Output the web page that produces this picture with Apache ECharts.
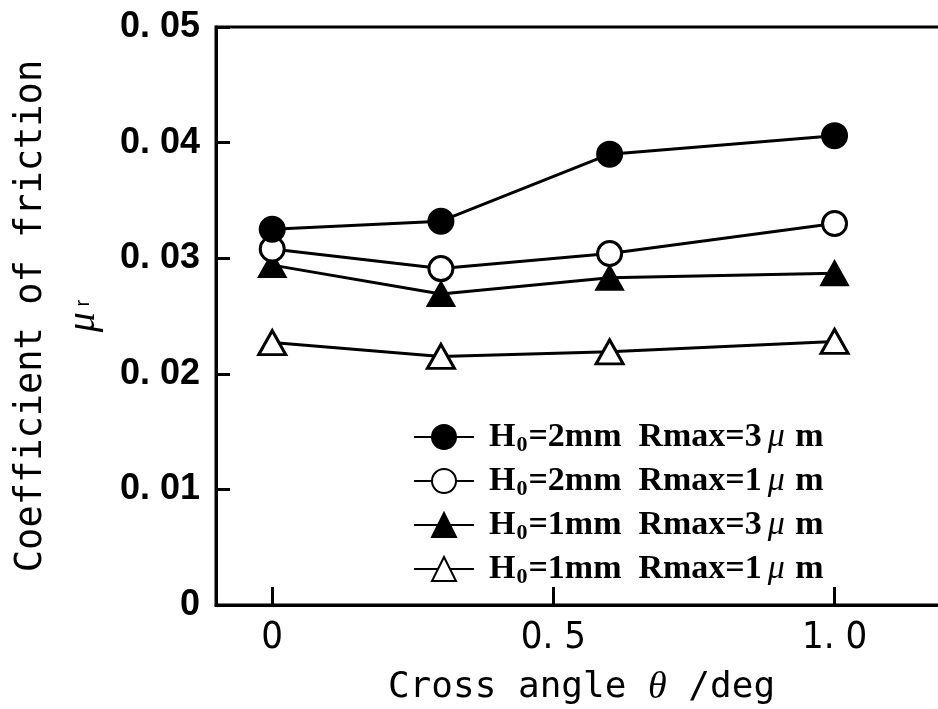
<!DOCTYPE html>
<html>
<head>
<meta charset="utf-8">
<script src="https://cdn.jsdelivr.net/npm/echarts@6/dist/echarts.min.js"></script>
<style>
  html, body { margin: 0; padding: 0; background: #fff; }
  #chart { width: 938px; height: 709px; }
</style>
</head>
<body>
<div id="chart"></div>
<script>
// cross angle (deg)
const crossAngle = [0, 0.3, 0.6, 1.0];
// coefficient of friction for each condition
const h2r3 = [0.0325, 0.0332, 0.0390, 0.0406];
const h2r1 = [0.0308, 0.0291, 0.0304, 0.0330];
const h1r3 = [0.0294, 0.0269, 0.0283, 0.0287];
const h1r1 = [0.0227, 0.0215, 0.0219, 0.0228];
const seriesNames = ['H0=2mm Rmax=3', 'H0=2mm Rmax=1', 'H0=1mm Rmax=3', 'H0=1mm Rmax=1'];
const xTickValues = [0, 0.5, 1.0];

function pairs(ys) {
  return ys.map((y, i) => [crossAngle[i], y]);
}

function legendLabel(name) {
  // name like 'H0=2mm Rmax=3'
  const h = name.substring(3, 4);
  const r = name.substring(name.length - 1);
  return '{t|H}{sub|0}{t|=' + h + 'mm  Rmax=' + r + '}{mu|μ}{t| m}';
}

let chartDom = document.getElementById('chart');
let myChart = echarts.init(chartDom, null, {renderer: 'canvas'});

const lineStyle = {color: '#000', width: 3};
const filled = {color: '#000', borderColor: '#000', borderWidth: 2};
const hollow = {color: '#fff', borderColor: '#000', borderWidth: 3};

let option = {
  backgroundColor: '#fff',
  animation: false,
  grid: {
    left: 216,
    top: 27,
    right: -9,
    bottom: 104,
    outerBoundsMode: 'none',
    containLabel: false,
    show: true,
    borderColor: '#000',
    borderWidth: 3
  },
  legend: {
    orient: 'vertical',
    left: 408,
    top: 415,
    itemWidth: 60,
    itemHeight: 30,
    itemGap: 8,
    data: seriesNames,
    formatter: legendLabel,
    textStyle: {
      color: '#000',
      padding: [0, 0, 0, 10],
      rich: {
        t: {fontFamily: 'Liberation Serif', fontSize: 34, fontWeight: 'bold', color: '#000', lineHeight: 38},
        sub: {fontFamily: 'Liberation Serif', fontSize: 22, fontWeight: 'bold', color: '#000', verticalAlign: 'bottom', padding: [14, 1, 0, 1]},
        mu: {fontFamily: 'Liberation Serif', fontSize: 34, fontStyle: 'italic', color: '#000', padding: [0, 2, 0, 6], lineHeight: 38}
      }
    }
  },
  xAxis: {
    type: 'value',
    min: -0.1,
    max: 1.2,
    name: '{n|Cross angle }{th|θ}{n| /deg}',
    nameLocation: 'middle',
    nameGap: 64,
    nameTextStyle: {
      rich: {
        n: {fontFamily: 'DejaVu Sans Mono', fontSize: 36, color: '#000'},
        th: {fontFamily: 'Liberation Serif', fontSize: 38, fontStyle: 'italic', color: '#000'}
      }
    },
    splitLine: {show: false},
    axisLine: {onZero: false, lineStyle: {color: '#000', width: 3}},
    axisTick: {inside: true, length: 18, customValues: xTickValues, lineStyle: {color: '#000', width: 3}},
    axisLabel: {
      customValues: xTickValues,
      margin: 14,
      fontFamily: 'DejaVu Sans Condensed, Liberation Sans',
      fontSize: 38,
      color: '#000',
      formatter: v => v === 0 ? '0' : v.toFixed(1).replace('.', '. ')
    }
  },
  yAxis: {
    type: 'value',
    min: 0,
    max: 0.05,
    interval: 0.01,
    name: '{n|Coefficient of friction}\n{mu|μ}{r| r}',
    nameLocation: 'middle',
    nameRotate: 90,
    nameGap: 94,
    nameTextStyle: {
      lineHeight: 52,
      rich: {
        n: {fontFamily: 'DejaVu Sans Mono', fontSize: 37, color: '#000', lineHeight: 52},
        mu: {fontFamily: 'Liberation Serif', fontSize: 40, fontStyle: 'italic', color: '#000', lineHeight: 52},
        r: {fontFamily: 'Liberation Sans', fontSize: 20, color: '#000', lineHeight: 52}
      }
    },
    splitLine: {show: false},
    axisLine: {onZero: false, lineStyle: {color: '#000', width: 3}},
    axisTick: {inside: true, length: 14, lineStyle: {color: '#000', width: 3}},
    axisLabel: {
      margin: 16,
      fontFamily: 'Liberation Sans',
      fontWeight: 'bold',
      fontSize: 36,
      color: '#000',
      formatter: v => v === 0 ? '0' : v.toFixed(2).replace('.', '. ')
    }
  },
  series: [
    {
      name: seriesNames[0],
      type: 'line',
      data: pairs(h2r3),
      symbol: 'circle',
      symbolSize: 25,
      itemStyle: filled,
      lineStyle: lineStyle,
      z: 5
    },
    {
      name: seriesNames[1],
      type: 'line',
      data: pairs(h2r1),
      symbol: 'circle',
      symbolSize: 24,
      itemStyle: hollow,
      lineStyle: lineStyle,
      z: 4
    },
    {
      name: seriesNames[2],
      type: 'line',
      data: pairs(h1r3),
      symbol: 'triangle',
      symbolSize: [27, 24],
      itemStyle: filled,
      lineStyle: lineStyle,
      z: 3
    },
    {
      name: seriesNames[3],
      type: 'line',
      data: pairs(h1r1),
      symbol: 'triangle',
      symbolSize: [27, 24],
      itemStyle: hollow,
      lineStyle: lineStyle,
      z: 2
    }
  ]
};
option && myChart.setOption(option);
</script>
</body>
</html>
